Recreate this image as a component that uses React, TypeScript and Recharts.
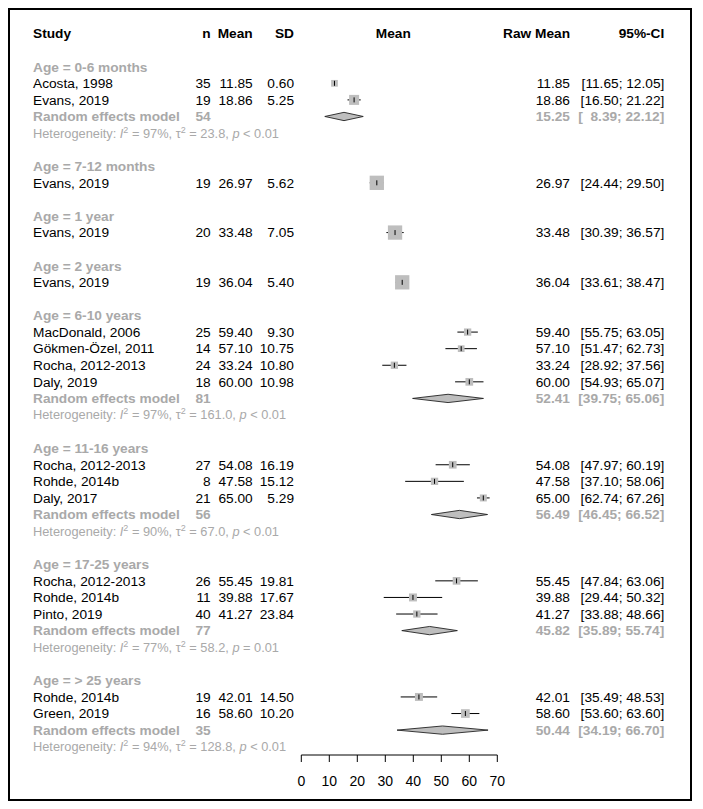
import React from 'react';
import { ComposedChart, Scatter, XAxis, YAxis, ErrorBar } from 'recharts';

// ---------------- data ----------------
const groupLabels = [
  'Age = 0-6 months',
  'Age = 7-12 months',
  'Age = 1 year',
  'Age = 2 years',
  'Age = 6-10 years',
  'Age = 11-16 years',
  'Age = 17-25 years',
  'Age = > 25 years',
];

const studyNames = [
  'Acosta, 1998', 'Evans, 2019',
  'Evans, 2019',
  'Evans, 2019',
  'Evans, 2019',
  'MacDonald, 2006', 'Gökmen-Özel, 2011', 'Rocha, 2012-2013', 'Daly, 2019',
  'Rocha, 2012-2013', 'Rohde, 2014b', 'Daly, 2017',
  'Rocha, 2012-2013', 'Rohde, 2014b', 'Pinto, 2019',
  'Rohde, 2014b', 'Green, 2019',
];
const studyGroup = [0, 0, 1, 2, 3, 4, 4, 4, 4, 5, 5, 5, 6, 6, 6, 7, 7];
const studyN = [35, 19, 19, 20, 19, 25, 14, 24, 18, 27, 8, 21, 26, 11, 40, 19, 16];
const studyMean = [11.85, 18.86, 26.97, 33.48, 36.04, 59.40, 57.10, 33.24, 60.00, 54.08, 47.58, 65.00, 55.45, 39.88, 41.27, 42.01, 58.60];
const studySD = [0.60, 5.25, 5.62, 7.05, 5.40, 9.30, 10.75, 10.80, 10.98, 16.19, 15.12, 5.29, 19.81, 17.67, 23.84, 14.50, 10.20];
const studyLower = [11.65, 16.50, 24.44, 30.39, 33.61, 55.75, 51.47, 28.92, 54.93, 47.97, 37.10, 62.74, 47.84, 29.44, 33.88, 35.49, 53.60];
const studyUpper = [12.05, 21.22, 29.50, 36.57, 38.47, 63.05, 62.73, 37.56, 65.07, 60.19, 58.06, 67.26, 63.06, 50.32, 48.66, 48.53, 63.60];
const studyWeight = [22, 49, 100, 100, 100, 26, 22, 26, 29, 29, 26, 24, 29, 31, 26, 31, 37];

const pooledGroup = [0, 4, 5, 6, 7];
const pooledN = [54, 81, 56, 77, 35];
const pooledMean = [15.25, 52.41, 56.49, 45.82, 50.44];
const pooledLower = [8.39, 39.75, 46.45, 35.89, 34.19];
const pooledUpper = [22.12, 65.06, 66.52, 55.74, 66.70];
const hetI2 = ['97%', '97%', '90%', '77%', '94%'];
const hetTau2 = ['23.8', '161.0', '67.0', '58.2', '128.8'];
const hetP = ['< 0.01', '< 0.01', '< 0.01', '= 0.01', '< 0.01'];

const axisTicks = [0, 10, 20, 30, 40, 50, 60, 70];

// ---------------- styles ----------------
const FONT = '"Liberation Sans", Arial, Helvetica, sans-serif';
const FS = 13.7;
const FS_HET = 12.8;
const GREY = '#A9A9A9';
const BOX_FILL = '#BEBEBE';
const MAX_BOX = 14.3;
const COL = { study: 25, n: 202.7, mean: 244.7, sd: 286, plotHead: 385.3, raw: 562, ci: 656.3 };
const DIAMOND_HALF = 0.25;

const f2 = (v: number) => v.toFixed(2);
const ciText = (lo: number, hi: number) => {
  const l = f2(lo);
  return '[' + (l.length < 5 ? '\u2007' + l : l) + '; ' + f2(hi) + ']';
};

// ---------------- layout rows ----------------
type Row = { x: number; y: number; kind: string; i: number };
const textRows: Row[] = [{ x: 0, y: -2, kind: 'colhead', i: 0 }];
const studyPts: any[] = [];
const diamondPts: any[] = [];
{
  let k = 0;
  groupLabels.forEach((g, gi) => {
    textRows.push({ x: 0, y: k, kind: 'group', i: gi });
    k++;
    studyGroup.forEach((sg, si) => {
      if (sg !== gi) return;
      textRows.push({ x: 0, y: k, kind: 'study', i: si });
      studyPts.push({
        x: studyMean[si],
        y: k,
        w: studyWeight[si],
        err: [studyMean[si] - studyLower[si], studyUpper[si] - studyMean[si]],
      });
      k++;
    });
    const pi = pooledGroup.indexOf(gi);
    if (pi >= 0) {
      textRows.push({ x: 0, y: k, kind: 'pooled', i: pi });
      diamondPts.push({ x: pooledLower[pi], y: k });
      diamondPts.push({ x: pooledMean[pi], y: k - DIAMOND_HALF });
      diamondPts.push({ x: pooledUpper[pi], y: k });
      diamondPts.push({ x: pooledMean[pi], y: k + DIAMOND_HALF });
      k++;
      textRows.push({ x: 0, y: k, kind: 'het', i: pi });
      k++;
    }
    k++;
  });
}

// ---------------- shapes ----------------
const T = (props: any) => (
  <text
    fontFamily={FONT}
    fontSize={FS}
    dy="0.35em"
    xmlSpace="preserve"
    style={{ whiteSpace: 'pre' }}
    {...props}
  />
);

const TextRowShape = (props: any) => {
  const { cy, payload } = props;
  const r: Row = payload;
  const i = r.i;
  if (r.kind === 'colhead') {
    return (
      <g fontWeight="bold" fill="#000">
        <T x={COL.study} y={cy} fontWeight="bold">Study</T>
        <T x={COL.n} y={cy} textAnchor="end" fontWeight="bold">n</T>
        <T x={COL.mean} y={cy} textAnchor="end" fontWeight="bold">Mean</T>
        <T x={COL.sd} y={cy} textAnchor="end" fontWeight="bold">SD</T>
        <T x={COL.plotHead} y={cy} textAnchor="middle" fontWeight="bold">Mean</T>
        <T x={COL.raw} y={cy} textAnchor="end" fontWeight="bold">Raw Mean</T>
        <T x={COL.ci} y={cy} textAnchor="end" fontWeight="bold">95%-CI</T>
      </g>
    );
  }
  if (r.kind === 'group') {
    return (
      <g>
        <T x={COL.study} y={cy} fontWeight="bold" fill={GREY}>{groupLabels[i]}</T>
      </g>
    );
  }
  if (r.kind === 'study') {
    return (
      <g>
        <T x={COL.study} y={cy} fill="#000">{studyNames[i]}</T>
        <T x={COL.n} y={cy} textAnchor="end" fill="#000">{String(studyN[i])}</T>
        <T x={COL.mean} y={cy} textAnchor="end" fill="#000">{f2(studyMean[i])}</T>
        <T x={COL.sd} y={cy} textAnchor="end" fill="#000">{f2(studySD[i])}</T>
        <T x={COL.raw} y={cy} textAnchor="end" fill="#000">{f2(studyMean[i])}</T>
        <T x={COL.ci} y={cy} textAnchor="end" fill="#000">{ciText(studyLower[i], studyUpper[i])}</T>
      </g>
    );
  }
  if (r.kind === 'pooled') {
    return (
      <g>
        <T x={COL.study} y={cy} fontWeight="bold" fill={GREY}>Random effects model</T>
        <T x={COL.n} y={cy} textAnchor="end" fontWeight="bold" fill={GREY}>{String(pooledN[i])}</T>
        <T x={COL.raw} y={cy} textAnchor="end" fontWeight="bold" fill={GREY}>{f2(pooledMean[i])}</T>
        <T x={COL.ci} y={cy} textAnchor="end" fontWeight="bold" fill={GREY}>{ciText(pooledLower[i], pooledUpper[i])}</T>
      </g>
    );
  }
  // heterogeneity
  return (
    <g>
      <T x={COL.study} y={cy} fontSize={FS_HET} fill={GREY}>
        <tspan>Heterogeneity: </tspan>
        <tspan fontStyle="italic">I</tspan>
        <tspan fontSize={9} dy={-5}>2</tspan>
        <tspan dy={5}>{' = ' + hetI2[i] + ', \u03C4'}</tspan>
        <tspan fontSize={9} dy={-5}>2</tspan>
        <tspan dy={5}>{' = ' + hetTau2[i] + ', '}</tspan>
        <tspan fontStyle="italic">p</tspan>
        <tspan>{' ' + hetP[i]}</tspan>
      </T>
    </g>
  );
};

const BoxShape = (props: any) => {
  const { cx, cy, payload } = props;
  const s = MAX_BOX * Math.sqrt(payload.w / 100);
  return <rect x={cx - s / 2} y={cy - s / 2} width={s} height={s} fill={BOX_FILL} stroke="none" />;
};

const TickShape = (props: any) => {
  const { cx, cy } = props;
  return <line x1={cx} x2={cx} y1={cy - 2.5} y2={cy + 2.5} stroke="#000" strokeWidth={1} />;
};

const EmptyShape = () => <g />;

const DiamondLine = (props: any) => {
  const pts: { x: number; y: number }[] = props.points || [];
  const polys: React.ReactNode[] = [];
  for (let j = 0; j + 3 < pts.length; j += 4) {
    const p = pts.slice(j, j + 4).map((q) => `${q.x},${q.y}`).join(' ');
    polys.push(<polygon key={j} points={p} fill={BOX_FILL} stroke="#222" strokeWidth={0.9} />);
  }
  return <g>{polys}</g>;
};

export default function App() {
  return (
    <div style={{ position: 'relative', width: 687, height: 795 }}>
      <ComposedChart
        width={687}
        height={795}
        margin={{ top: 8.97, right: 197.7, bottom: 0, left: 293.3 }}
        style={{ fontFamily: FONT }}
      >
        <XAxis
          type="number"
          dataKey="x"
          domain={[0, 70]}
          ticks={axisTicks}
          interval={0}
          tickSize={7}
          tickMargin={14}
          height={48}
          stroke="#000"
          axisLine={{ stroke: '#000' }}
          tickLine={{ stroke: '#000' }}
          tick={{ fontSize: 14, fill: '#000', fontFamily: FONT }}
        />
        <YAxis type="number" dataKey="y" domain={[-3, 41.5]} reversed hide />
        <Scatter data={textRows} shape={TextRowShape} isAnimationActive={false} />
        <Scatter data={studyPts} shape={BoxShape} isAnimationActive={false} />
        <Scatter data={studyPts} shape={TickShape} isAnimationActive={false}>
          <ErrorBar dataKey="err" direction="x" width={0} stroke="#000" strokeWidth={1} />
        </Scatter>
        <Scatter
          data={diamondPts}
          shape={EmptyShape}
          line={DiamondLine}
          lineType="joint"
          isAnimationActive={false}
        />
      </ComposedChart>
      <div
        style={{
          position: 'absolute',
          left: 0,
          top: 0,
          width: 684,
          height: 793,
          boxSizing: 'border-box',
          border: '2px solid #000',
          pointerEvents: 'none',
        }}
      />
    </div>
  );
}
